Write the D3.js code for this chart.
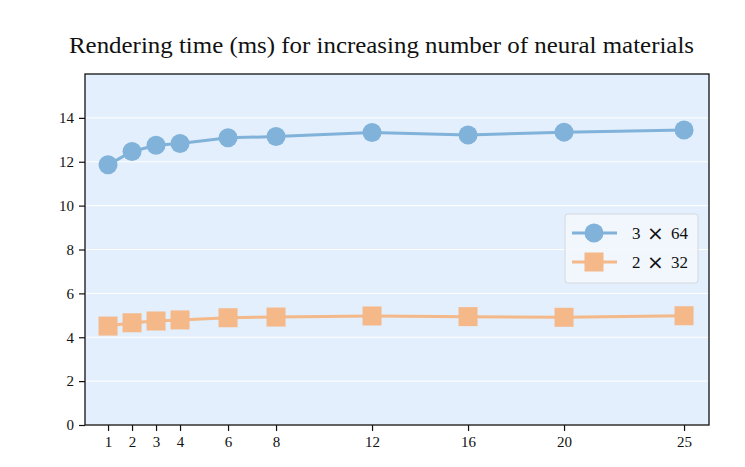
<!DOCTYPE html>
<html>
<head>
<meta charset="utf-8">
<title>Rendering time</title>
<script src="https://cdn.jsdelivr.net/npm/d3@7"></script>
<style>
  body { margin: 0; background: #fff; }
  text { font-family: "Liberation Serif", serif; }
</style>
</head>
<body>
<script>
var W = 745, H = 467;
var materials = [1, 2, 3, 4, 6, 8, 12, 16, 20, 25];
var series64 = [11.86, 12.47, 12.75, 12.83, 13.09, 13.15, 13.33, 13.22, 13.35, 13.45];
var series32 = [4.51, 4.66, 4.74, 4.79, 4.89, 4.92, 4.97, 4.94, 4.91, 4.98];
var yTicks = [0, 2, 4, 6, 8, 10, 12, 14];
var legendA = ["3", "2"], legendB = ["64", "32"];
var colors = ["#80b2da", "#f4b889"];

var m = { left: 85, right: 709, top: 74, bottom: 425 };

var svg = d3.select("body").append("svg")
  .attr("width", W).attr("height", H);

var x = d3.scaleLinear().domain([0.04, 26.04]).range([m.left, m.right]);
var y = d3.scaleLinear().domain([0, 16]).range([m.bottom, m.top]);

// background
svg.append("rect")
  .attr("x", m.left).attr("y", m.top)
  .attr("width", m.right - m.left).attr("height", m.bottom - m.top)
  .attr("fill", "#e3effc");

// grid
svg.selectAll("line.grid").data(yTicks).enter().append("line")
  .attr("class", "grid")
  .attr("x1", m.left).attr("x2", m.right)
  .attr("y1", function(d) { return y(d); })
  .attr("y2", function(d) { return y(d); })
  .attr("stroke", "#fff").attr("stroke-width", 1);

// lines + markers
var line = d3.line()
  .x(function(d) { return x(d[0]); })
  .y(function(d) { return y(d[1]); });

[series64, series32].forEach(function(s, k) {
  var pts = materials.map(function(v, i) { return [v, s[i]]; });
  svg.append("path").datum(pts)
    .attr("d", line)
    .attr("fill", "none")
    .attr("stroke", colors[k])
    .attr("stroke-width", 3);
  if (k === 0) {
    svg.selectAll("circle.m").data(pts).enter().append("circle")
      .attr("cx", function(d) { return x(d[0]); })
      .attr("cy", function(d) { return y(d[1]); })
      .attr("r", 9.5)
      .attr("fill", colors[0]);
  } else {
    svg.selectAll("rect.m").data(pts).enter().append("rect")
      .attr("x", function(d) { return x(d[0]) - 9.5; })
      .attr("y", function(d) { return y(d[1]) - 9.5; })
      .attr("width", 19).attr("height", 19)
      .attr("fill", colors[1]);
  }
});

// axes
var xAxis = svg.append("g")
  .attr("transform", "translate(0," + m.bottom + ")")
  .call(d3.axisBottom(x).tickValues(materials).tickSize(6).tickPadding(5));
var yAxis = svg.append("g")
  .attr("transform", "translate(" + m.left + ",0)")
  .call(d3.axisLeft(y).tickValues(yTicks).tickSize(6).tickPadding(5));
[xAxis, yAxis].forEach(function(g) {
  g.select(".domain").remove();
  g.selectAll("text").attr("font-size", "15px").attr("fill", "#111")
    .attr("font-family", "Liberation Serif, serif");
  g.selectAll("line").attr("stroke", "#111").attr("stroke-width", 1.2);
});

// frame
svg.append("rect")
  .attr("x", m.left).attr("y", m.top)
  .attr("width", m.right - m.left).attr("height", m.bottom - m.top)
  .attr("fill", "none").attr("stroke", "#111").attr("stroke-width", 1.3);

// title
svg.append("text")
  .attr("x", 381.5).attr("y", 53)
  .attr("text-anchor", "middle")
  .attr("font-size", "24px").attr("fill", "#111")
  .attr("textLength", 625).attr("lengthAdjust", "spacingAndGlyphs")
  .text("Rendering time (ms) for increasing number of neural materials");

// legend
var lg = svg.append("g");
lg.append("rect")
  .attr("x", 565).attr("y", 214).attr("width", 133).attr("height", 69)
  .attr("rx", 3).attr("fill", "#f3f8fd").attr("fill-opacity", 0.85)
  .attr("stroke", "#d4d8dd").attr("stroke-width", 1);
legendA.forEach(function(a, k) {
  var ly = 233 + k * 29;
  lg.append("line").attr("x1", 572).attr("x2", 617)
    .attr("y1", ly).attr("y2", ly)
    .attr("stroke", colors[k]).attr("stroke-width", 3);
  if (k === 0) {
    lg.append("circle").attr("cx", 594).attr("cy", ly).attr("r", 9.5).attr("fill", colors[k]);
  } else {
    lg.append("rect").attr("x", 584.5).attr("y", ly - 9.5).attr("width", 19).attr("height", 19).attr("fill", colors[k]);
  }
  var t = lg.append("text").attr("x", 632).attr("y", ly + 5.5)
    .attr("font-size", "17px").attr("fill", "#111");
  t.append("tspan").text(a);
  t.append("tspan").attr("x", 647).attr("dy", 1.5)
    .attr("font-family", "DejaVu Sans, sans-serif").attr("font-size", "20px").text("\u00D7");
  t.append("tspan").attr("x", 671).attr("dy", -1.5).text(legendB[k]);
});
</script>
</body>
</html>
